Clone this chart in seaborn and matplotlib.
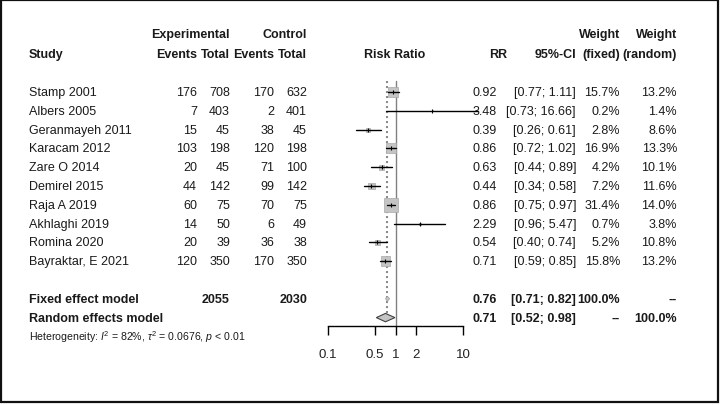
import numpy as np
import pandas as pd
import seaborn as sns
import matplotlib.pyplot as plt
from matplotlib.transforms import blended_transform_factory
from matplotlib.patches import Rectangle

# study data
studies = ['Stamp 2001', 'Albers 2005', 'Geranmayeh 2011', 'Karacam 2012', 'Zare O 2014',
           'Demirel 2015', 'Raja A 2019', 'Akhlaghi 2019', 'Romina 2020', 'Bayraktar, E 2021']
exp_events = [176, 7, 15, 103, 20, 44, 60, 14, 20, 120]
exp_total = [708, 403, 45, 198, 45, 142, 75, 50, 39, 350]
ctrl_events = [170, 2, 38, 120, 71, 99, 70, 6, 36, 170]
ctrl_total = [632, 401, 45, 198, 100, 142, 75, 49, 38, 350]
rr = [0.92, 3.48, 0.39, 0.86, 0.63, 0.44, 0.86, 2.29, 0.54, 0.71]
ci_low = [0.77, 0.73, 0.26, 0.72, 0.44, 0.34, 0.75, 0.96, 0.40, 0.59]
ci_high = [1.11, 16.66, 0.61, 1.02, 0.89, 0.58, 0.97, 5.47, 0.74, 0.85]
w_fixed = [15.7, 0.2, 2.8, 16.9, 4.2, 7.2, 31.4, 0.7, 5.2, 15.8]
w_random = [13.2, 1.4, 8.6, 13.3, 10.1, 11.6, 14.0, 3.8, 10.8, 13.2]

fixed_rr, fixed_low, fixed_high = 0.76, 0.71, 0.82
random_rr, random_low, random_high = 0.71, 0.52, 0.98
exp_sum, ctrl_sum = 2055, 2030
het_text = r'Heterogeneity: $\it{I}^2$ = 82%, $\tau^2$ = 0.0676, $\it{p}$ < 0.01'
xticks = [0.1, 0.5, 1, 2, 10]

W, H = 722, 406
sns.set_theme(style='white')
plt.rcParams['font.family'] = ['Liberation Sans', 'DejaVu Sans']
plt.rcParams['mathtext.fontset'] = 'custom'
plt.rcParams['mathtext.rm'] = 'Liberation Sans'
plt.rcParams['mathtext.it'] = 'Liberation Sans:italic'

fig = plt.figure(figsize=(W / 100, H / 100), dpi=100)
fig.patch.set_facecolor('white')


def fx(px):
    return px / W


def fy(py):
    return 1 - py / H


# forest axes: row i sits at pixel 93 + 18.8 * i
row0, step = 93, 18.8
ax = fig.add_axes([fx(328), fy(327), 135 / W, 247 / H])
ax.set_xscale('log')
ax.set_xlim(0.1, 10)
ax.set_ylim((327 - row0) / step, (80 - row0) / step)
ax.patch.set_alpha(0)

rows = np.arange(len(studies))
fixed_row, random_row, het_row = 11, 12, 13

# reference lines
ax.plot([1, 1], [-0.6, (327 - row0) / step], color='#808080', lw=1, clip_on=False)
ax.plot([fixed_rr, fixed_rr], [-0.6, 11.8], color='#8c8c8c', lw=1.5, ls=(0, (1, 1.4)),
        clip_on=False)

# CI lines
for i in rows:
    ax.plot([ci_low[i], ci_high[i]], [i, i], color='black', lw=1, clip_on=False, zorder=3)

# squares sized by fixed weight
df = pd.DataFrame({'rr': rr, 'row': rows, 'w': w_fixed})
side_px = 13.5 * np.sqrt(df['w'] / 31.4)
sns.scatterplot(data=df, x='rr', y='row', marker='s', s=(side_px * 0.72) ** 2,
                color='#c4c4c4', edgecolor='#a8a8a8', linewidth=0.5, legend=False,
                ax=ax, zorder=2, clip_on=False)
ax.scatter(rr, rows, marker='|', s=12, color='black', linewidths=0.8, zorder=4, clip_on=False)

# summary diamonds
h = 4.2 / step
ax.fill([random_low, random_rr, random_high, random_rr],
        [random_row, random_row - h, random_row, random_row + h],
        facecolor='#c4c4c4', edgecolor='#404040', lw=0.8, zorder=3)
hf = 2.5 / step
ax.fill([fixed_low, fixed_rr, fixed_high, fixed_rr],
        [fixed_row, fixed_row - hf, fixed_row, fixed_row + hf],
        facecolor='#c4c4c4', edgecolor='#a0a0a0', lw=0.5, zorder=3)

for s in ['left', 'top', 'right']:
    ax.spines[s].set_visible(False)
ax.spines['bottom'].set_color('black')
ax.spines['bottom'].set_linewidth(1)
ax.set_xlabel('')
ax.set_ylabel('')
ax.set_yticks([])
ax.set_xticks(xticks)
ax.set_xticklabels([f'{t:g}' for t in xticks])
ax.xaxis.set_minor_locator(plt.NullLocator())
ax.tick_params(axis='x', bottom=True, length=6.5, width=1, pad=9, labelsize=9.5,
               color='black', labelcolor='#222222', direction='out')

# text columns
tr = blended_transform_factory(fig.transFigure, ax.transData)
fs = 9
tc = '#1a1a1a'


def put(px, row, txt, ha='right', bold=False, size=fs):
    ax.text(fx(px), row, txt, transform=tr, ha=ha, va='center', fontsize=size,
            fontweight='bold' if bold else 'normal', color=tc, clip_on=False)


# headers
put(230, -3.1, 'Experimental', bold=True)
put(307, -3.1, 'Control', bold=True)
put(620, -3.1, 'Weight', bold=True)
put(677, -3.1, 'Weight', bold=True)
put(29, -2, 'Study', ha='left', bold=True)
put(197, -2, 'Events', bold=True)
put(230, -2, 'Total', bold=True)
put(274, -2, 'Events', bold=True)
put(307, -2, 'Total', bold=True)
put(395, -2, 'Risk Ratio', ha='center', bold=True)
put(507, -2, 'RR', bold=True)
put(576, -2, '95%-CI', bold=True)
put(620, -2, '(fixed)', bold=True)
put(677, -2, '(random)', bold=True)

for i in rows:
    put(29, i, studies[i], ha='left')
    put(197, i, str(exp_events[i]))
    put(230, i, str(exp_total[i]))
    put(274, i, str(ctrl_events[i]))
    put(307, i, str(ctrl_total[i]))
    put(497, i, f'{rr[i]:.2f}')
    put(576, i, f'[{ci_low[i]:.2f}; {ci_high[i]:.2f}]')
    put(620, i, f'{w_fixed[i]:.1f}%')
    put(677, i, f'{w_random[i]:.1f}%')

put(29, fixed_row, 'Fixed effect model', ha='left', bold=True)
put(230, fixed_row, str(exp_sum), bold=True)
put(307, fixed_row, str(ctrl_sum), bold=True)
put(497, fixed_row, f'{fixed_rr:.2f}', bold=True)
put(576, fixed_row, f'[{fixed_low:.2f}; {fixed_high:.2f}]', bold=True)
put(620, fixed_row, '100.0%', bold=True)
put(677, fixed_row, '--', bold=True)

put(29, random_row, 'Random effects model', ha='left', bold=True)
put(497, random_row, f'{random_rr:.2f}', bold=True)
put(576, random_row, f'[{random_low:.2f}; {random_high:.2f}]', bold=True)
put(620, random_row, '--', bold=True)
put(677, random_row, '100.0%', bold=True)

put(29, het_row, het_text, ha='left', size=7.6)

# outer frame
fig.add_artist(Rectangle((fx(1), fy(403)), 717 / W, 402 / H, transform=fig.transFigure,
                         fill=False, edgecolor='#111111', lw=1.6))

fig.savefig('out.png', dpi=100)
